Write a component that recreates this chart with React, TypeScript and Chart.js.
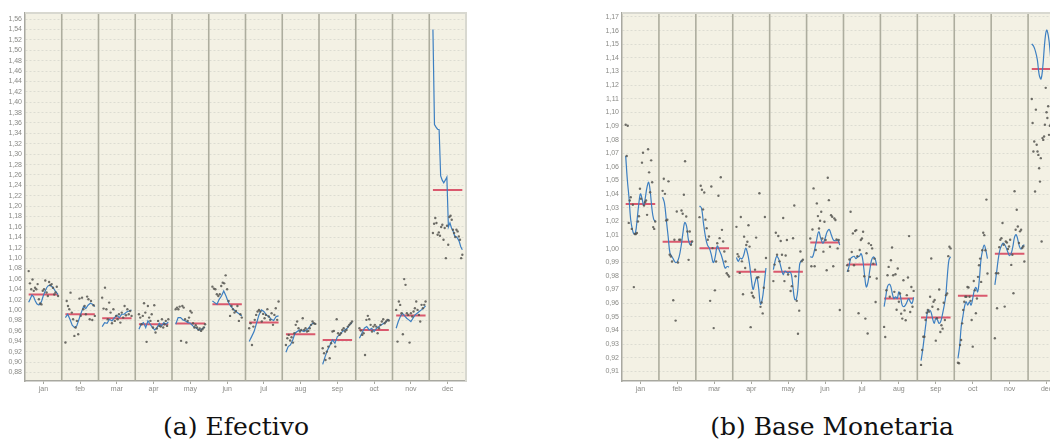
import React, { useEffect, useRef } from 'react';
import { Chart, registerables } from 'chart.js';

Chart.register(...registerables);

const MONTHS = ['jan', 'feb', 'mar', 'apr', 'may', 'jun', 'jul', 'aug', 'sep', 'oct', 'nov', 'dec'];

// ---------- (a) Efectivo ----------
const EF_MEANS = [1.030, 0.992, 0.9843, 0.9728, 0.9741, 1.0112, 0.976, 0.9536, 0.9426, 0.9619, 0.9896, 1.2311];

const EF_POINTS = [
  [1.075, 1.0515, 1.040, 1.059, 1.037, 1.043, 1.040, 1.050, 1.021, 1.013, 1.011, 1.037, 1.040, 1.057, 1.034, 1.027, 1.054, 1.048, 1.050, 1.043, 1.030, 1.034, 1.045, 1.027],
  [0.9376, 1.0176, 1.008, 1.0016, 1.0336, 0.9952, 0.9824, 0.9504, 0.9664, 0.9792, 0.9536, 1.0221, 0.989, 1.024, 1.0016, 1.008, 0.992, 1.026, 1.0208, 0.9824, 1.0176, 0.981, 1.0093, 0.9888],
  [1.024, 1.0029, 1.0432, 1.0016, 0.9824, 1.0144, 0.9952, 0.9747, 1.0016, 0.9792, 0.9888, 0.9824, 0.992, 0.976, 0.9952, 0.9856, 1.008, 0.99, 1.0016, 0.992, 0.9984, 0.9888],
  [0.992, 0.9856, 0.9728, 0.9888, 1.0131, 0.9952, 0.9389, 1.008, 0.9856, 0.9792, 0.992, 0.9664, 1.0093, 0.9568, 0.9645, 0.9792, 0.9696, 0.9683, 0.9824, 0.9664, 0.9728, 0.9792, 0.9696, 0.9824],
  [1.0016, 1.0048, 1.0016, 1.0067, 0.9408, 1.008, 1.0048, 0.9824, 0.9376, 0.9792, 0.9856, 0.9984, 0.9952, 0.9747, 0.9664, 0.9709, 0.9664, 0.962, 0.9645, 0.96, 0.9632, 0.9664, 0.9728],
  [1.0451, 1.0413, 1.04, 1.0304, 1.0272, 1.0304, 1.0464, 1.0528, 1.0515, 1.0669, 1.04, 1.0176, 0.9888, 1.008, 1.0016, 0.9952, 0.9984, 1.008, 0.9792, 0.992, 0.9856],
  [0.9652, 0.9747, 0.933, 0.9683, 0.9812, 0.9908, 0.9973, 1.0004, 0.9973, 0.978, 0.9927, 0.9844, 0.9908, 1.0018, 0.9876, 0.9812, 0.994, 0.9716, 0.9908, 1.0037, 0.9812, 1.0165],
  [0.933, 0.9459, 0.9523, 0.9414, 0.9478, 0.9375, 0.9555, 0.9716, 0.978, 0.9651, 0.9587, 0.9619, 0.9844, 0.9619, 0.9651, 0.9587, 0.96, 0.9651, 0.9716, 0.978, 0.9747, 0.9735],
  [0.9266, 0.917, 0.9041, 0.9202, 0.9298, 0.9073, 0.9362, 0.9587, 0.96, 0.9298, 0.9825, 0.9555, 0.9523, 0.9555, 0.9619, 0.9651, 0.9587, 0.9619, 0.9683, 0.9716, 0.9747, 0.978],
  [0.9651, 0.9606, 0.9523, 0.9555, 0.9137, 0.9812, 0.9889, 0.9825, 0.9716, 0.9587, 0.9683, 0.9716, 0.9683, 0.9555, 0.9651, 0.9716, 0.978, 0.9825, 0.9747, 0.978, 0.9812, 0.98],
  [1.0004, 0.9394, 1.0165, 1.01, 0.994, 0.9536, 1.0596, 1.0486, 0.994, 0.9908, 0.9375, 0.994, 0.9876, 0.9973, 1.0037, 1.0165, 1.0004, 0.9908, 0.978, 1.0101, 1.0037, 1.0101, 1.0165],
  [1.1482, 1.1662, 1.1771, 1.1675, 1.145, 1.1495, 1.1431, 1.1598, 1.1643, 1.1354, 1.1579, 1.1, 1.1624, 1.1257, 1.1791, 1.1816, 1.1739, 1.1546, 1.1482, 1.1405, 1.1546, 1.1514, 1.1418, 1.1354, 1.1, 1.1065],
];

const EF_LINES = [
  [1.015, 1.022, 1.029, 1.026, 1.018, 1.012, 1.010, 1.011, 1.018, 1.028, 1.036, 1.043, 1.047, 1.048, 1.046, 1.043, 1.038, 1.034, 1.030],
  [0.9856, 0.992, 0.9824, 0.971, 0.9664, 0.9696, 0.9824, 0.9952, 1.0067, 1.003, 1.0093, 1.0131, 1.0112, 1.0067],
  [0.9683, 0.976, 0.9747, 0.9824, 0.9792, 0.9856, 0.99, 0.9856, 0.992, 0.992, 0.9965, 0.9984, 1.0003],
  [0.9632, 0.9728, 0.976, 0.9664, 0.9792, 0.9728, 0.9664, 0.962, 0.9664, 0.9747, 0.9696, 0.976, 0.9728, 0.9773],
  [0.9728, 0.9856, 0.9856, 0.981, 0.9792, 0.976, 0.9747, 0.9696, 0.9664, 0.9632, 0.9613, 0.9645, 0.9677],
  [1.0176, 1.0144, 1.0112, 1.0208, 1.0272, 1.0368, 1.0272, 1.0157, 1.008, 1.0029, 0.9984, 0.9952, 0.992, 0.9888],
  [0.9394, 0.949, 0.9587, 0.9747, 0.9908, 1.0004, 0.9973, 0.9908, 0.9876, 0.9825, 0.98, 0.9876, 0.9889],
  [0.9189, 0.9298, 0.933, 0.9426, 0.9555, 0.9587, 0.9619, 0.9606, 0.9587, 0.9619, 0.9651, 0.9716, 0.9747, 0.9735],
  [0.8957, 0.9105, 0.9234, 0.933, 0.9426, 0.9362, 0.9491, 0.9523, 0.9587, 0.9619, 0.9651, 0.9716, 0.9761],
  [0.9459, 0.9555, 0.9651, 0.9683, 0.9619, 0.9651, 0.9587, 0.9651, 0.9683, 0.9716, 0.9747, 0.978, 0.9825],
  [0.9651, 0.978, 0.9876, 0.994, 0.9889, 0.9844, 0.9812, 0.978, 0.9844, 0.9908, 0.994, 0.9973, 1.0004, 1.0037, 1.0082],
  [1.540, 1.357, 1.352, 1.348, 1.347, 1.258, 1.250, 1.245, 1.250, 1.256, 1.160, 1.168, 1.158, 1.152, 1.143, 1.141, 1.138, 1.132, 1.122, 1.116],
];

// ---------- (b) Base Monetaria ----------
const BM_MEANS = [1.0327, 1.005, 1.0003, 0.983, 0.983, 1.0046, 0.9883, 0.9634, 0.9494, 0.9654, 0.9962, 1.1318];

const BM_POINTS = [
  [1.0909, 1.068, 1.0902, 1.0189, 1.0353, 1.0377, 1.0145, 1.0322, 0.9718, 1.0108, 1.0108, 1.0115, 1.0199, 1.0238, 1.0439, 1.0366, 1.0631, 1.0704, 1.0317, 1.0341, 1.0353, 1.0248, 1.0729, 1.056, 1.0414, 1.0648, 1.0487, 1.0158, 1.0145, 1.0199],
  [1.0424, 1.0513, 1.0402, 1.0207, 1.0212, 1.0494, 0.9955, 0.9943, 0.9906, 0.9622, 1.0065, 0.9472, 1.0273, 0.9898, 1.0065, 1.0065, 1.028, 1.0256, 1.0395, 1.0641, 1.0236, 1.0126, 0.9918, 1.0126, 1.0029, 1.0053],
  [1.0231, 1.0461, 1.0432, 1.0288, 1.0412, 1.0213, 1.015, 1.0065, 1.0089, 0.9617, 1.0456, 1.0004, 0.9417, 0.9694, 0.9906, 1.004, 1.0388, 1.0077, 1.0524, 1.0138, 1.0053, 0.9979, 0.9906, 0.982, 0.9808, 0.9796],
  [1.016, 0.996, 0.9943, 0.9822, 1.0232, 0.9907, 0.9665, 1.0088, 0.9858, 1.0027, 1.0051, 1.0172, 1.0015, 0.9424, 0.9677, 0.9653, 0.9641, 0.9846, 1.0081, 0.9786, 0.9791, 1.0407, 0.9573, 0.9605, 0.9525, 0.9713, 1.0232, 0.9931],
  [0.9762, 0.9883, 1.0117, 0.9955, 1.0093, 0.9907, 1.0056, 0.9955, 1.0225, 0.9762, 0.995, 1.0063, 0.981, 0.9858, 0.9689, 0.9725, 1.0076, 1.0317, 0.9798, 0.9617, 0.9376, 0.9545, 0.9979, 0.9907, 0.9919],
  [1.0075, 0.9871, 1.0141, 1.0442, 0.9871, 0.999, 1.0332, 1.0239, 1.0148, 1.0205, 1.0271, 1.0075, 0.9978, 1.0197, 1.0063, 0.9842, 1.052, 1.0356, 1.0014, 1.0246, 1.0234, 0.9871, 1.0222, 1.021, 1.0068, 1.0002, 1.0063, 0.955],
  [0.9878, 0.9837, 0.992, 1.0271, 0.9976, 1.0112, 0.9878, 1.0129, 1.0136, 0.9944, 0.9526, 0.999, 1.0063, 1.0075, 1.0124, 0.9798, 0.9487, 0.9966, 0.9377, 1.0039, 0.9793, 1.0026, 1.0002, 0.989, 0.9927, 0.9609, 0.9781],
  [0.9426, 0.9352, 0.9695, 0.9805, 0.9866, 0.9647, 0.9915, 1.0008, 0.9805, 0.9683, 0.9812, 0.9552, 0.9854, 0.961, 0.9671, 0.9523, 0.9487, 0.9768, 0.9547, 0.9475, 0.9659, 0.9788, 1.0092, 0.9535, 0.9719, 0.9574, 0.969],
  [0.9147, 0.9256, 0.9354, 0.9354, 0.9477, 0.953, 0.955, 0.9538, 0.9647, 0.9928, 0.9574, 0.961, 0.9623, 0.9325, 0.9489, 0.9555, 0.97, 0.9389, 0.9438, 0.9413, 0.9603, 0.9477, 0.9659, 0.9671, 0.9945, 1.0014, 1.0002],
  [0.9163, 0.9159, 0.9293, 0.933, 0.9452, 0.955, 0.961, 0.9647, 0.9647, 0.9719, 0.9715, 0.9647, 0.9617, 0.9477, 0.9281, 0.9763, 0.9695, 0.9526, 0.9634, 0.9793, 0.9878, 0.9927, 0.9756, 0.9988, 1.0117, 1.0099, 0.9988, 1.036, 0.9818],
  [0.9343, 0.982, 0.9563, 0.982, 1.0011, 1.0065, 1.0077, 1.0188, 1.0029, 0.9575, 1.0053, 1.0045, 0.9997, 1.0016, 1.0065, 0.9881, 0.9955, 0.9673, 1.0421, 1.0139, 1.0286, 1.0163, 1.0041, 1.0127, 1.0139, 1.0004, 1.0016, 0.9906],
  [1.1098, 1.0922, 1.0713, 1.0786, 1.0419, 1.102, 1.0762, 1.0713, 1.0688, 1.059, 1.0492, 1.0664, 1.0052, 1.0811, 1.0798, 1.0823, 1.0909, 1.118, 1.1001, 1.0959, 1.1045, 1.0835, 1.0901, 1.0909, 1.0554, 1.0737, 1.1187, 1.095, 1.082, 1.106, 1.071, 1.088, 1.112, 1.079, 1.064, 1.098, 1.085],
];

const BM_LINES = [
  [1.0681, 1.0505, 1.0377, 1.0218, 1.0145, 1.0108, 1.012, 1.0218, 1.0329, 1.0402, 1.0366, 1.0317, 1.0377, 1.0451, 1.0487, 1.0414, 1.0292, 1.0218, 1.0198],
  [1.0378, 1.0334, 1.0212, 1.0089, 0.9967, 0.9943, 0.9918, 0.9898, 0.9906, 0.9943, 1.0016, 1.0114, 1.0192, 1.0163, 1.0065, 1.0029, 1.0053],
  [1.0314, 1.0297, 1.0187, 1.0089, 1.0028, 1.0004, 0.9955, 0.9898, 0.9943, 1.002, 0.999, 0.9955, 0.9906, 0.9857, 0.9869, 0.9864],
  [0.9935, 0.9907, 0.9931, 0.9926, 0.9955, 1.0003, 0.9967, 0.9895, 0.9786, 0.9701, 0.975, 0.9791, 0.9713, 0.9593, 0.9629, 0.9738, 0.9858],
  [0.9846, 0.9907, 0.9943, 0.9931, 0.9894, 0.9846, 0.981, 0.9834, 0.9829, 0.9822, 0.9829, 0.981, 0.9713, 0.9629, 0.9629, 0.9713, 0.9883, 0.9911, 0.9919],
  [0.9942, 0.9937, 0.999, 1.0063, 1.0124, 1.0075, 1.0039, 1.0075, 1.0124, 1.0141, 1.01, 1.0063, 1.0058, 1.0063, 1.0026],
  [0.983, 0.9866, 0.9927, 0.9939, 0.9944, 0.9927, 0.9939, 0.9944, 0.9963, 0.9915, 0.9805, 0.9719, 0.9756, 0.9842, 0.9915, 0.9939, 0.9927, 0.9878],
  [0.9574, 0.9647, 0.9719, 0.9739, 0.9725, 0.9671, 0.9634, 0.9647, 0.9634, 0.9683, 0.9647, 0.9586, 0.9574, 0.9586, 0.961, 0.9634, 0.961, 0.9598, 0.9642],
  [0.9178, 0.9256, 0.9354, 0.9452, 0.9538, 0.955, 0.9538, 0.9489, 0.9452, 0.9489, 0.9477, 0.9452, 0.9465, 0.9514, 0.9574, 0.9647, 0.9794, 0.9916, 0.9941],
  [0.9195, 0.9281, 0.9428, 0.9501, 0.9574, 0.961, 0.9586, 0.961, 0.9586, 0.9634, 0.9695, 0.9715, 0.9683, 0.9768, 0.9915, 0.9988, 1.0026, 0.9988, 0.9927],
  [0.9734, 0.982, 0.9918, 0.9987, 1.0021, 1.0041, 1.0029, 1.0004, 0.9972, 0.9948, 0.9967, 1.0016, 1.0085, 1.0102, 1.0065, 1.0016, 0.9997, 1.0021, 1.0029],
  [1.1502, 1.1485, 1.1448, 1.1387, 1.1277, 1.1245, 1.1338, 1.151, 1.1603, 1.1559, 1.1436, 1.1277, 1.122, 1.128, 1.138, 1.146, 1.142],
];

const SPAN_START = 0.1;
const SPAN_WIDTH = 0.8;

function spread(vals: number[], m: number) {
  const n = vals.length;
  return vals.map((v, i) => ({ x: m + SPAN_START + (SPAN_WIDTH * i) / (n - 1), y: v }));
}

function buildDatasets(points: number[][], lines: number[][], means: number[], tension: number) {
  const scatter: any[] = [];
  const line: any[] = [];
  const mean: any[] = [];
  points.forEach((vals, m) => scatter.push(...spread(vals, m)));
  lines.forEach((vals, m) => {
    line.push(...spread(vals, m));
    line.push({ x: m + 0.95, y: null });
  });
  means.forEach((v, m) => {
    mean.push({ x: m + SPAN_START, y: v }, { x: m + SPAN_START + SPAN_WIDTH, y: v }, { x: m + 0.95, y: null });
  });
  return [
    {
      type: 'scatter',
      data: scatter,
      pointRadius: 1.2,
      pointBackgroundColor: 'rgba(85,85,80,0.85)',
      pointBorderWidth: 0,
      showLine: false,
    },
    {
      type: 'line',
      data: line,
      borderColor: '#3d7fc1',
      borderWidth: 1.2,
      pointRadius: 0,
      tension,
      spanGaps: false,
      fill: false,
    },
    {
      type: 'line',
      data: mean,
      borderColor: 'rgba(215,72,96,0.9)',
      borderWidth: 2,
      pointRadius: 0,
      tension: 0,
      spanGaps: false,
      fill: false,
    },
  ];
}

const panelPlugin = {
  id: 'panelDeco',
  beforeDraw(chart: any) {
    const { ctx, chartArea: a } = chart;
    ctx.save();
    ctx.fillStyle = '#f3f1e4';
    ctx.fillRect(a.left, a.top, a.right - a.left, a.bottom - a.top);
    ctx.restore();
  },
  beforeDatasetsDraw(chart: any) {
    const { ctx, chartArea: a, scales } = chart;
    ctx.save();
    ctx.strokeStyle = '#adad9e';
    ctx.lineWidth = 1.6;
    for (let i = 1; i < MONTHS.length; i++) {
      const px = scales.x.getPixelForValue(i);
      ctx.beginPath();
      ctx.moveTo(px, a.top);
      ctx.lineTo(px, a.bottom);
      ctx.stroke();
    }
    ctx.strokeStyle = '#d8d8d0';
    ctx.lineWidth = 2;
    ctx.beginPath();
    ctx.moveTo(a.left, a.top);
    ctx.lineTo(a.right, a.top);
    ctx.lineTo(a.right, a.bottom);
    ctx.stroke();
    ctx.restore();
  },
};

const TICK_FONT = { family: '"Liberation Sans", Arial, sans-serif', size: 7 };
const TICK_COLOR = '#8a8a86';

function makeConfig(opts: {
  points: number[][];
  lines: number[][];
  means: number[];
  tension: number;
  yMin: number;
  yMax: number;
  step: number;
  axisWidth: number;
  padRight: number;
}) {
  const yStep = opts.step;
  const yLo = opts.yMin;
  const yHi = opts.yMax;
  return {
    type: 'scatter',
    data: { datasets: buildDatasets(opts.points, opts.lines, opts.means, opts.tension) },
    plugins: [panelPlugin],
    options: {
      animation: false,
      responsive: false,
      maintainAspectRatio: false,
      events: [],
      layout: { padding: { top: 13, right: opts.padRight, left: 0, bottom: 0 } },
      plugins: { legend: { display: false }, tooltip: { enabled: false } },
      scales: {
        x: {
          type: 'linear',
          bounds: 'data',
          min: 0,
          max: MONTHS.length,
          afterBuildTicks: (s: any) => {
            s.ticks = MONTHS.map((_, i) => ({ value: i + 0.5 }));
          },
          afterFit: (s: any) => {
            s.height = 19;
          },
          ticks: {
            autoSkip: false,
            maxRotation: 0,
            padding: 1,
            color: TICK_COLOR,
            font: TICK_FONT,
            callback: (_v: any, i: number) => MONTHS[i],
          },
          grid: { drawOnChartArea: false, drawTicks: true, tickLength: 3, color: '#a8a8a0' },
          border: { color: '#a8a8a0', width: 1.5 },
        },
        y: {
          type: 'linear',
          bounds: 'data',
          min: yLo,
          max: yHi,
          afterBuildTicks: (s: any) => {
            const out: any[] = [];
            const first = Math.ceil(yLo / yStep - 1e-6);
            const last = Math.floor(yHi / yStep + 1e-6);
            for (let k = first; k <= last; k++) out.push({ value: Math.round(k * yStep * 10000) / 10000 });
            s.ticks = out;
          },
          afterFit: (s: any) => {
            s.width = opts.axisWidth;
          },
          ticks: {
            autoSkip: false,
            padding: 3,
            color: TICK_COLOR,
            font: TICK_FONT,
            callback: (v: any) => Number(v).toFixed(2).replace('.', ','),
          },
          grid: { color: '#dcdcd2', lineWidth: 1, drawTicks: false },
          border: { color: '#a8a8a0', width: 1.5, dash: [2, 2] },
        },
      },
    },
  };
}

function Panel(props: { left: number; width: number; config: any }) {
  const ref = useRef<HTMLCanvasElement>(null);
  useEffect(() => {
    if (!ref.current) return;
    const chart = new Chart(ref.current, props.config);
    return () => chart.destroy();
  }, []);
  return (
    <canvas
      ref={ref}
      width={props.width}
      height={400}
      style={{ position: 'absolute', left: props.left, top: 0, width: props.width, height: 400 }}
    />
  );
}

const captionStyle: React.CSSProperties = {
  position: 'absolute',
  top: 412,
  width: 400,
  textAlign: 'center',
  fontFamily: '"DejaVu Serif", "Liberation Serif", serif',
  fontSize: 25,
  lineHeight: '30px',
  color: '#111',
  whiteSpace: 'nowrap',
};

export default function App() {
  const efConfig = makeConfig({
    points: EF_POINTS,
    lines: EF_LINES,
    means: EF_MEANS,
    tension: 0,
    yMin: 0.8636,
    yMax: 1.5716,
    step: 0.02,
    axisWidth: 25,
    padRight: 4,
  });
  const bmConfig = makeConfig({
    points: BM_POINTS,
    lines: BM_LINES,
    means: BM_MEANS,
    tension: 0.4,
    yMin: 0.9029,
    yMax: 1.1729,
    step: 0.01,
    axisWidth: 52,
    padRight: 5,
  });
  return (
    <div style={{ position: 'fixed', left: 0, top: 0, width: 1050, height: 443, overflow: 'hidden', background: '#fff' }}>
      <Panel left={0} width={470} config={efConfig} />
      <Panel left={570} width={500} config={bmConfig} />
      <div style={{ ...captionStyle, left: 36 }}>(a) Efectivo</div>
      <div style={{ ...captionStyle, left: 632 }}>(b) Base Monetaria</div>
    </div>
  );
}
